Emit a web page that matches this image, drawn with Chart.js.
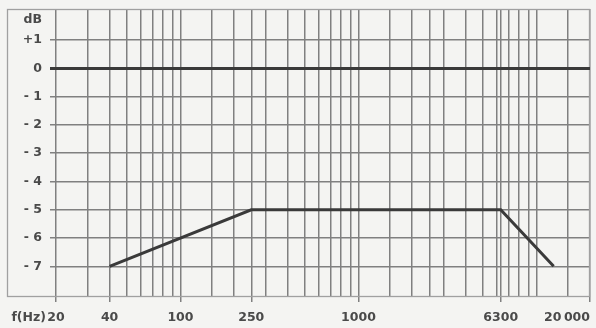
<!DOCTYPE html>
<html>
<head>
<meta charset="utf-8">
<script src="https://cdn.jsdelivr.net/npm/chart.js@4/dist/chart.umd.min.js"></script>
<style>
  html, body { margin: 0; padding: 0; background: #f4f4f2; }
  #wrap { width: 596px; height: 328px; position: relative; }
</style>
</head>
<body>
<div id="wrap"><canvas id="responseChart"></canvas></div>
<script>
// axis range (Hz / dB)
var freqMin = 18.5;
var freqMax = 20000;
var dbMin = -8.05;
var dbMax = 2.1;

// vertical grid lines of the log paper
var gridFreqs = [20, 30, 40, 50, 60, 70, 80, 90, 100, 150, 200, 250, 300, 400, 500, 600, 700, 800, 900,
                 1000, 1500, 2000, 2500, 3000, 4000, 5000, 6000, 6300, 7000, 8000, 9000, 10000, 15000, 20000];
var labelFreqs = [20, 40, 100, 250, 1000, 6300, 20000];
var labelTexts = ['20', '40', '100', '250', '1000', '6300', '20\u2009000'];

var dbTicks = [1, 0, -1, -2, -3, -4, -5, -6, -7];
var dbLabels = ['+1', '0', '- 1', '- 2', '- 3', '- 4', '- 5', '- 6', '- 7'];

// curves
var flatFreqs = [18.5, 20000];
var flatDb = [0, 0];
var filterFreqs = [40, 250, 6300, 12500];
var filterDb = [-7, -5, -5, -7];

var gridColor = '#808080';
var lineColor = '#3a3a3a';
var textColor = '#4a4a4a';
var fontFamily = "'DejaVu Sans', 'Liberation Sans', sans-serif";

Chart.defaults.font.family = fontFamily;
Chart.defaults.font.size = 12.5;
Chart.defaults.font.weight = 'bold';
Chart.defaults.color = textColor;

function toPoints(xs, ys) {
    return xs.map(function(x, i) { return { x: x, y: ys[i] }; });
}

var framePlugin = {
    id: 'frame',
    beforeDatasetsDraw: function(chart) {
        var ctx = chart.ctx;
        var area = chart.chartArea;
        var yScale = chart.scales.y;
        var left = area.left - yScale.width;
        ctx.save();
        ctx.strokeStyle = '#a0a0a0';
        ctx.lineWidth = 1.3;
        ctx.strokeRect(left + 0.5, area.top + 0.5, area.right - left - 1, area.bottom - area.top);
        ctx.restore();
    },
    afterDraw: function(chart) {
        var ctx = chart.ctx;
        var area = chart.chartArea;
        var xScale = chart.scales.x;
        ctx.save();
        ctx.fillStyle = textColor;
        ctx.font = 'bold 12.5px ' + fontFamily;
        ctx.textAlign = 'right';
        ctx.textBaseline = 'middle';
        ctx.fillText('dB', area.left - 8, area.top + 11);
        ctx.fillText('f(Hz)', area.left - 4, xScale.top + 6 + 8 + 8);
        ctx.restore();
    }
};

var responseChart = new Chart(document.getElementById('responseChart'), {
    type: 'line',
    data: {
        datasets: [{
            data: toPoints(flatFreqs, flatDb),
            borderColor: lineColor,
            borderWidth: 3,
            pointRadius: 0
        }, {
            data: toPoints(filterFreqs, filterDb),
            borderColor: lineColor,
            borderWidth: 3,
            pointRadius: 0
        }]
    },
    options: {
        responsive: true,
        maintainAspectRatio: false,
        animation: false,
        layout: { padding: { top: 9, left: 7, right: 6, bottom: 2 } },
        plugins: {
            legend: { display: false },
            tooltip: { enabled: false }
        },
        scales: {
            x: {
                type: 'logarithmic',
                min: freqMin,
                max: freqMax,
                afterBuildTicks: function(scale) {
                    scale.ticks = [{ value: freqMin }].concat(gridFreqs.map(function(f) { return { value: f }; }));
                },
                afterFit: function(scale) {
                    scale.height = 30;
                    scale.paddingLeft = 0;
                    scale.paddingRight = 0;
                },
                border: { display: false },
                grid: {
                    color: function(c) { return c.tick && c.tick.value === freqMin ? 'rgba(0,0,0,0)' : gridColor; },
                    tickColor: function(c) {
                        return c.tick && labelFreqs.indexOf(c.tick.value) >= 0 ? gridColor : 'rgba(0,0,0,0)';
                    },
                    lineWidth: 1.5,
                    tickLength: 6
                },
                ticks: {
                    autoSkip: false,
                    maxRotation: 0,
                    align: 'inner',
                    padding: 8,
                    callback: function(value) {
                        var i = labelFreqs.indexOf(value);
                        return i >= 0 ? labelTexts[i] : '';
                    }
                }
            },
            y: {
                min: dbMin,
                max: dbMax,
                afterBuildTicks: function(scale) {
                    scale.ticks = dbTicks.map(function(v) { return { value: v }; });
                },
                afterFit: function(scale) {
                    scale.width = 43;
                    scale.paddingTop = 0;
                    scale.paddingBottom = 0;
                },
                border: { display: false },
                grid: { color: gridColor, lineWidth: 1.5, drawTicks: false },
                ticks: {
                    padding: 8,
                    callback: function(value) {
                        var i = dbTicks.indexOf(value);
                        return i >= 0 ? dbLabels[i] : '';
                    }
                }
            }
        }
    },
    plugins: [framePlugin]
});
</script>
</body>
</html>
